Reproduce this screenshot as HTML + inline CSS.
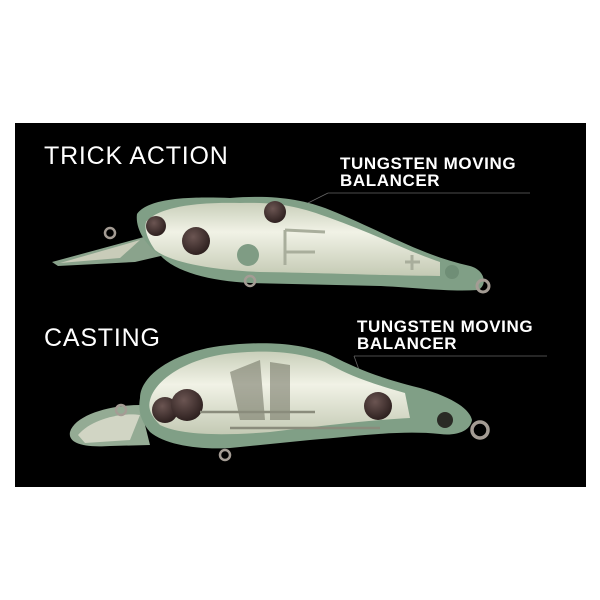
<!DOCTYPE html>
<html><head><meta charset="utf-8"><style>
html,body{margin:0;padding:0;background:#fff;}
svg{display:block}
text{font-family:"Liberation Sans",sans-serif;fill:#fff}
</style></head><body>
<svg width="600" height="600" viewBox="0 0 600 600">
<rect x="0" y="0" width="600" height="600" fill="#fff"/>
<rect x="15" y="123" width="571" height="364" fill="#000"/>
<defs>
<linearGradient id="cl" x1="0" y1="0" x2="0" y2="1">
<stop offset="0" stop-color="#c9cfba"/><stop offset="0.4" stop-color="#f1f2e6"/><stop offset="1" stop-color="#c4cab4"/>
</linearGradient>
<radialGradient id="ball" cx="0.4" cy="0.35" r="0.7">
<stop offset="0" stop-color="#6b5552"/><stop offset="1" stop-color="#2a1d1c"/>
</radialGradient>
</defs>

<text x="44" y="164" font-size="25" letter-spacing="0.8">TRICK ACTION</text>
<text x="340" y="169" font-size="17" font-weight="bold" letter-spacing="0.6">TUNGSTEN MOVING</text>
<text x="340" y="186" font-size="17" font-weight="bold" letter-spacing="0.6">BALANCER</text>
<line x1="328" y1="193" x2="530" y2="193" stroke="#666" stroke-width="0.8"/>
<line x1="328" y1="193" x2="308" y2="203" stroke="#666" stroke-width="0.8"/>

<!-- lure 1 -->
<path d="M155,234 L52,262 L58,266 L135,262 L165,255 Z" fill="#8aa38c"/>
<path d="M60,263 L140,240 L120,258 Z" fill="#d8d6c4" opacity="0.8"/>
<path d="M137,214 C150,196 200,197 230,198 C270,195 300,198 330,210 C380,230 420,255 470,266 C485,270 488,285 478,290 C450,292 420,288 380,286 L250,283 C210,281 175,272 160,255 C145,245 135,228 137,214 Z" fill="#809f86"/>
<path d="M146,222 C160,205 205,202 240,203 C280,202 300,207 330,218 C370,232 410,252 440,262 L440,276 C400,276 330,273 260,272 C210,270 170,262 155,250 C148,240 144,230 146,222 Z" fill="url(#cl)"/>
<circle cx="156" cy="226" r="10" fill="url(#ball)"/>
<circle cx="196" cy="241" r="14" fill="url(#ball)"/>
<circle cx="275" cy="212" r="11" fill="url(#ball)"/>
<circle cx="248" cy="255" r="11" fill="#7f9c84"/>
<circle cx="452" cy="272" r="7" fill="#6f8e76"/>
<path d="M285,230 L325,232 M285,252 L315,252 M285,230 L285,265 M405,262 L420,262 M412,255 L412,270" stroke="#a9ae9c" stroke-width="3" fill="none"/>
<circle cx="110" cy="233" r="5" fill="none" stroke="#a49c94" stroke-width="2.5"/>
<circle cx="250" cy="281" r="5" fill="none" stroke="#a49c94" stroke-width="2.5"/>
<circle cx="483" cy="286" r="6" fill="none" stroke="#a49c94" stroke-width="3"/>

<text x="44" y="346" font-size="25" letter-spacing="0.8">CASTING</text>
<text x="357" y="332" font-size="17" font-weight="bold" letter-spacing="0.6">TUNGSTEN MOVING</text>
<text x="357" y="349" font-size="17" font-weight="bold" letter-spacing="0.6">BALANCER</text>
<line x1="354" y1="356" x2="547" y2="356" stroke="#666" stroke-width="0.8"/>
<line x1="354" y1="356" x2="362" y2="378" stroke="#666" stroke-width="0.8"/>

<!-- lure 2 -->
<path d="M140,405 C110,405 75,415 70,432 C68,442 80,448 110,446 L150,445 Z" fill="#94ab94"/>
<path d="M78,435 C90,420 120,412 140,415 L130,440 L85,443 Z" fill="#dcdccc" opacity="0.85"/>
<path d="M140,398 C140,375 175,352 220,346 C260,341 300,342 330,355 C360,370 380,378 420,388 C455,398 470,410 472,420 C470,432 455,436 440,434 C400,430 360,436 310,440 L230,448 C200,450 165,445 150,432 C140,420 138,410 140,398 Z" fill="#809f86"/>
<path d="M150,400 C155,380 185,360 225,354 C265,349 300,352 325,362 C350,376 370,383 405,393 L410,418 C370,420 320,426 270,432 C220,436 180,435 160,425 C150,415 148,408 150,400 Z" fill="url(#cl)"/>
<path d="M230,372 L260,360 L265,420 L240,420 Z M270,362 L290,365 L290,420 L270,420 Z" fill="#6d6f5f" opacity="0.55"/>
<circle cx="165" cy="410" r="13" fill="url(#ball)"/>
<circle cx="187" cy="405" r="16" fill="url(#ball)"/>
<circle cx="378" cy="406" r="14" fill="url(#ball)"/>
<circle cx="445" cy="420" r="8" fill="#2a2a25"/>
<path d="M200,412 L315,412 M230,428 L380,428" stroke="#8a8c7c" stroke-width="2.5" fill="none"/>
<circle cx="121" cy="410" r="5" fill="none" stroke="#a49c94" stroke-width="2.5"/>
<circle cx="225" cy="455" r="5" fill="none" stroke="#a49c94" stroke-width="2.5"/>
<circle cx="480" cy="430" r="8" fill="none" stroke="#a49c94" stroke-width="3.5"/>
</svg>
</body></html>
